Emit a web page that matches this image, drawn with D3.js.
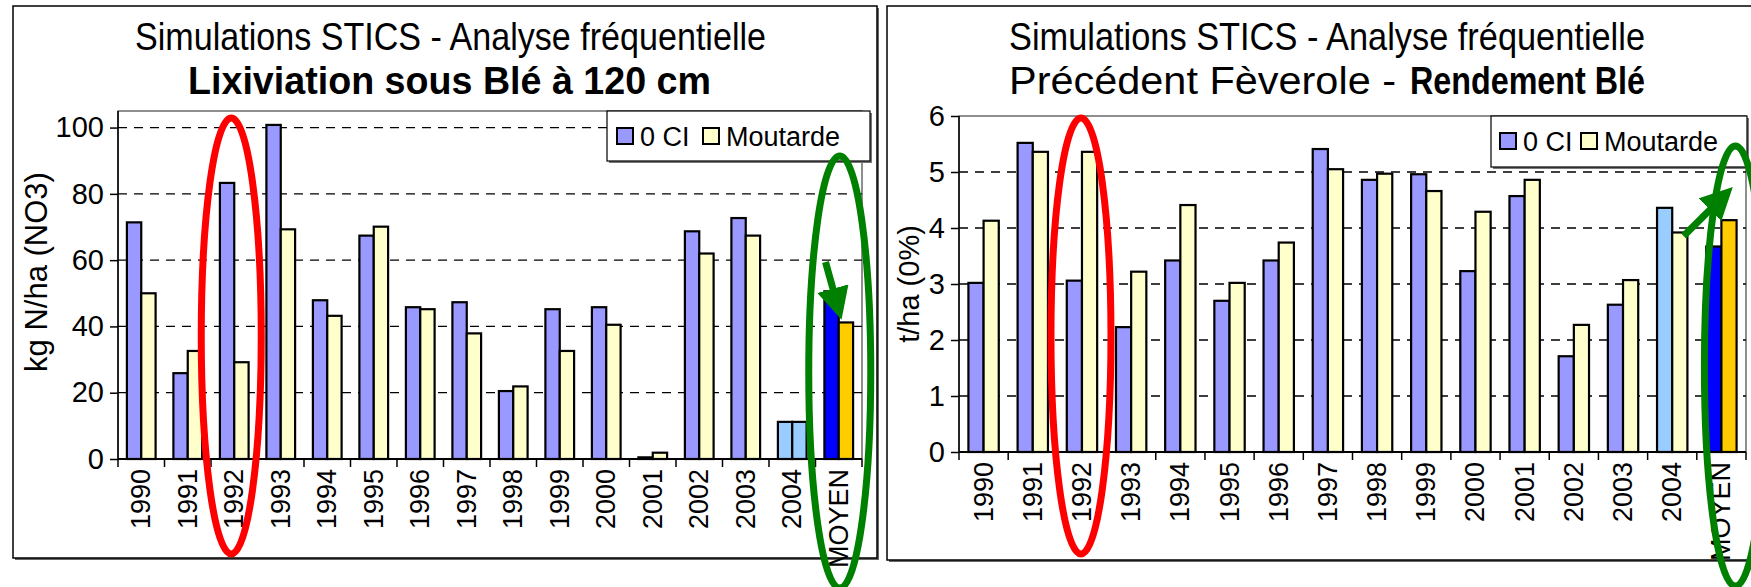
<!DOCTYPE html>
<html>
    <head>
        <meta charset="utf-8">
        <title>Simulations STICS - Analyse fréquentielle</title>
        <script src="https://d3js.org/d3.v7.min.js"></script>
    </head>
    <style>
        body {
            margin: 0;
            background-color: #fff;
            font-family: "Liberation Sans", Arial, sans-serif;
        }
        .grid line {
            stroke: #000;
            stroke-width: 1.3px;
            stroke-dasharray: 9,7;
        }
        .bar {
            stroke: #000;
            stroke-width: 2.2px;
        }
    </style>
    <body>
        <div id="chart"></div>
    </body>
    <script>
        // Data
        var years = ["1990", "1991", "1992", "1993", "1994", "1995", "1996", "1997",
                     "1998", "1999", "2000", "2001", "2002", "2003", "2004", "MOYEN"];
        var seriesNames = ["0 CI", "Moutarde"];

        var leachCI   = [71.4, 25.9, 83.3, 100.8, 47.9, 67.4, 45.8, 47.3, 20.5, 45.2, 45.8, 0.5, 68.7, 72.7, 11.2, 50.6];
        var leachMout = [50.0, 32.6, 29.2, 69.3, 43.2, 70.1, 45.2, 37.9, 21.9, 32.6, 40.5, 1.9, 62.0, 67.4, 11.2, 41.2];
        var leachTicks = [0, 20, 40, 60, 80, 100];

        var yieldCI   = [3.02, 5.52, 3.06, 2.23, 3.42, 2.70, 3.42, 5.41, 4.86, 4.96, 3.23, 4.57, 1.71, 2.63, 4.36, 3.67];
        var yieldMout = [4.13, 5.36, 5.36, 3.22, 4.41, 3.02, 3.74, 5.05, 4.97, 4.66, 4.29, 4.86, 2.27, 3.07, 3.92, 4.14];
        var yieldTicks = [0, 1, 2, 3, 4, 5, 6];

        // fill colours, with the special ones for 2004 and MOYEN
        var baseColor = {"0 CI": "#9999ff", "Moutarde": "#ffffcc"};
        var leachSpecial = {
            "2004|0 CI": "#99ccff",
            "2004|Moutarde": "#99ccff",
            "MOYEN|0 CI": "#0000ff",
            "MOYEN|Moutarde": "#ffcc00"
        };
        var yieldSpecial = {
            "2004|0 CI": "#99ccff",
            "MOYEN|0 CI": "#0000ff",
            "MOYEN|Moutarde": "#ffcc00"
        };

        var W = 1751, H = 587;
        var svg = d3.select("#chart").append("svg")
            .attr("width", W)
            .attr("height", H)
            .style("display", "block");

        function drawPanel(cfg) {
            var g = svg.append("g");

            // panel frame
            g.append("rect")
                .attr("x", cfg.frame[0] + 2).attr("y", cfg.frame[1] + 2)
                .attr("width", cfg.frame[2] - cfg.frame[0]).attr("height", cfg.frame[3] - cfg.frame[1])
                .attr("fill", "#666");
            g.append("rect")
                .attr("x", cfg.frame[0]).attr("y", cfg.frame[1])
                .attr("width", cfg.frame[2] - cfg.frame[0]).attr("height", cfg.frame[3] - cfg.frame[1])
                .attr("fill", "#fff").attr("stroke", "#000").attr("stroke-width", 1.5);

            // titles
            cfg.titles.forEach(function(t) {
                g.append("text")
                    .attr("x", t.x).attr("y", t.y)
                    .attr("font-size", 39)
                    .attr("font-weight", t.bold ? "bold" : "normal")
                    .attr("textLength", t.len)
                    .attr("lengthAdjust", "spacingAndGlyphs")
                    .text(t.text);
            });

            var x = d3.scaleBand()
                .domain(years)
                .range([cfg.plot.left, cfg.plot.right]);
            var xs = d3.scaleBand()
                .domain(seriesNames)
                .range([0, x.bandwidth()])
                .paddingOuter(0.62);
            var y = d3.scaleLinear()
                .domain(cfg.yDomain)
                .range([cfg.plot.bottom, cfg.plot.top]);

            // plot area border
            g.append("rect")
                .attr("x", cfg.plot.left).attr("y", cfg.plot.top)
                .attr("width", cfg.plot.right - cfg.plot.left)
                .attr("height", cfg.plot.bottom - cfg.plot.top)
                .attr("fill", "#fff").attr("stroke", "#444").attr("stroke-width", 1.2);

            // dashed gridlines
            g.append("g")
                .attr("class", "grid")
                .selectAll("line")
                .data(cfg.ticks.filter(function(d) { return d > 0 && y(d) > cfg.plot.top + 1; }))
                .enter().append("line")
                    .attr("x1", cfg.plot.left).attr("x2", cfg.plot.right)
                    .attr("y1", function(d) { return y(d); })
                    .attr("y2", function(d) { return y(d); });

            // bars
            var rows = [];
            years.forEach(function(yr, i) {
                rows.push({year: yr, s: "0 CI", v: cfg.ci[i]});
                rows.push({year: yr, s: "Moutarde", v: cfg.mout[i]});
            });
            g.append("g")
                .selectAll("rect")
                .data(rows)
                .enter().append("rect")
                    .attr("class", "bar")
                    .attr("x", function(d) { return x(d.year) + xs(d.s); })
                    .attr("y", function(d) { return y(d.v); })
                    .attr("width", xs.bandwidth())
                    .attr("height", function(d) { return y(0) - y(d.v); })
                    .attr("fill", function(d) {
                        return cfg.special[d.year + "|" + d.s] || baseColor[d.s];
                    });

            // y axis
            var yAxis = d3.axisLeft(y)
                .tickValues(cfg.ticks)
                .tickSize(8)
                .tickPadding(6)
                .tickFormat(d3.format("d"));
            var ya = g.append("g")
                .attr("transform", "translate(" + cfg.plot.left + ",0)")
                .call(yAxis);
            ya.select(".domain").attr("stroke", "#000").attr("stroke-width", 1.5)
                .attr("d", "M0," + cfg.plot.top + "V" + cfg.plot.bottom);
            ya.selectAll("line").attr("stroke-width", 1.5);
            ya.selectAll("text")
                .attr("font-size", 29)
                .attr("font-family", "Liberation Sans, Arial, sans-serif")
                .attr("fill", "#000");

            // x axis: ticks between categories
            var xa = g.append("g")
                .attr("transform", "translate(0," + cfg.plot.bottom + ")");
            xa.append("line")
                .attr("x1", cfg.plot.left).attr("x2", cfg.plot.right)
                .attr("stroke", "#000").attr("stroke-width", 1.8);
            xa.selectAll(".tk")
                .data(years)
                .enter().append("line")
                    .attr("class", "tk")
                    .attr("x1", function(d) { return x(d) + x.bandwidth(); })
                    .attr("x2", function(d) { return x(d) + x.bandwidth(); })
                    .attr("y1", 0).attr("y2", 8)
                    .attr("stroke", "#000").attr("stroke-width", 1.5);
            xa.append("line")
                .attr("x1", cfg.plot.left).attr("x2", cfg.plot.left)
                .attr("y1", 0).attr("y2", 8)
                .attr("stroke", "#000").attr("stroke-width", 1.5);
            xa.selectAll(".lab")
                .data(years)
                .enter().append("text")
                    .attr("class", "lab")
                    .attr("transform", function(d) {
                        return "translate(" + (x(d) + x.bandwidth() / 2 + 9) + "," + 10 + ") rotate(-90)";
                    })
                    .attr("text-anchor", "end")
                    .attr("font-size", 27)
                    .text(function(d) { return d; });

            // y axis title
            g.append("text")
                .attr("transform", "translate(" + cfg.yTitle.x + "," + cfg.yTitle.y + ") rotate(-90)")
                .attr("text-anchor", "middle")
                .attr("font-size", cfg.yTitle.size)
                .text(cfg.yTitle.text);

            // legend
            var lg = g.append("g")
                .attr("transform", "translate(" + cfg.legend.x + "," + cfg.legend.y + ")");
            lg.append("rect")
                .attr("x", 2).attr("y", 2)
                .attr("width", cfg.legend.w).attr("height", cfg.legend.h)
                .attr("fill", "#777");
            lg.append("rect")
                .attr("width", cfg.legend.w).attr("height", cfg.legend.h)
                .attr("fill", "#fff").attr("stroke", "#000").attr("stroke-width", 1.2);
            var items = lg.selectAll(".item")
                .data(seriesNames)
                .enter().append("g")
                    .attr("class", "item")
                    .attr("transform", function(d, i) { return "translate(" + cfg.legend.offsets[i] + ",0)"; });
            items.append("rect")
                .attr("x", 0).attr("y", 17)
                .attr("width", 16).attr("height", 16)
                .attr("fill", function(d) { return baseColor[d]; })
                .attr("stroke", "#000").attr("stroke-width", 2);
            items.append("text")
                .attr("x", 23).attr("y", 35)
                .attr("font-size", 27)
                .text(function(d) { return d; });

            return {g: g, x: x, y: y};
        }

        var left = drawPanel({
            frame: [13, 6, 877, 558],
            titles: [
                {x: 135, y: 50, len: 631, text: "Simulations STICS - Analyse fréquentielle"},
                {x: 188, y: 94, len: 523, bold: true, text: "Lixiviation sous Blé à 120 cm"}
            ],
            plot: {left: 118, right: 862, top: 111, bottom: 459},
            yDomain: [0, 105],
            ticks: leachTicks,
            ci: leachCI,
            mout: leachMout,
            special: leachSpecial,
            yTitle: {x: 47, y: 272, size: 31, text: "kg N/ha (NO3)"},
            legend: {x: 607, y: 111, w: 263, h: 50, offsets: [10, 96]}
        });

        var right = drawPanel({
            frame: [887, 6, 1760, 560],
            titles: [
                {x: 1009, y: 50, len: 636, text: "Simulations STICS - Analyse fréquentielle"},
                {x: 1009, y: 94, len: 387, text: "Précédent Fèverole -"},
                {x: 1410, y: 94, len: 235, bold: true, text: "Rendement Blé"}
            ],
            plot: {left: 959, right: 1746, top: 116, bottom: 452},
            yDomain: [0, 6],
            ticks: yieldTicks,
            ci: yieldCI,
            mout: yieldMout,
            special: yieldSpecial,
            yTitle: {x: 919, y: 284, size: 29, text: "t/ha (0%)"},
            legend: {x: 1491, y: 116, w: 256, h: 51, offsets: [9, 90]}
        });

        // annotations: red ellipses around 1992, green ellipses around MOYEN
        var ann = svg.append("g").attr("fill", "none");
        function ring(panel, year, cy, rx, ry, dx, color) {
            ann.append("ellipse")
                .attr("cx", panel.x(year) + panel.x.bandwidth() / 2 + dx)
                .attr("cy", cy)
                .attr("rx", rx).attr("ry", ry)
                .attr("stroke", color).attr("stroke-width", 7);
        }
        ring(left, "1992", 336, 30, 218, -3, "#ff0000");
        ring(right, "1992", 336, 30, 218, -1, "#ff0000");
        ring(left, "MOYEN", 372, 31, 216, 1, "#008000");
        ring(right, "MOYEN", 366, 31, 220, 14, "#008000");

        // green arrows
        svg.append("defs").append("marker")
            .attr("id", "head")
            .attr("viewBox", "0 0 10 10")
            .attr("refX", 3).attr("refY", 5)
            .attr("markerWidth", 4.6).attr("markerHeight", 4.6)
            .attr("orient", "auto")
            .append("path")
                .attr("d", "M0,0L10,5L0,10Z")
                .attr("fill", "#008000");
        function arrow(x1, y1, x2, y2) {
            svg.append("line")
                .attr("x1", x1).attr("y1", y1)
                .attr("x2", x2).attr("y2", y2)
                .attr("stroke", "#008000").attr("stroke-width", 7)
                .attr("marker-end", "url(#head)");
        }
        arrow(left.x("MOYEN") + 10, 262, left.x("MOYEN") + 20, 298);
        arrow(right.x("2004") + 36, 236, right.x("MOYEN") + 20, 203);
    </script>
</html>
